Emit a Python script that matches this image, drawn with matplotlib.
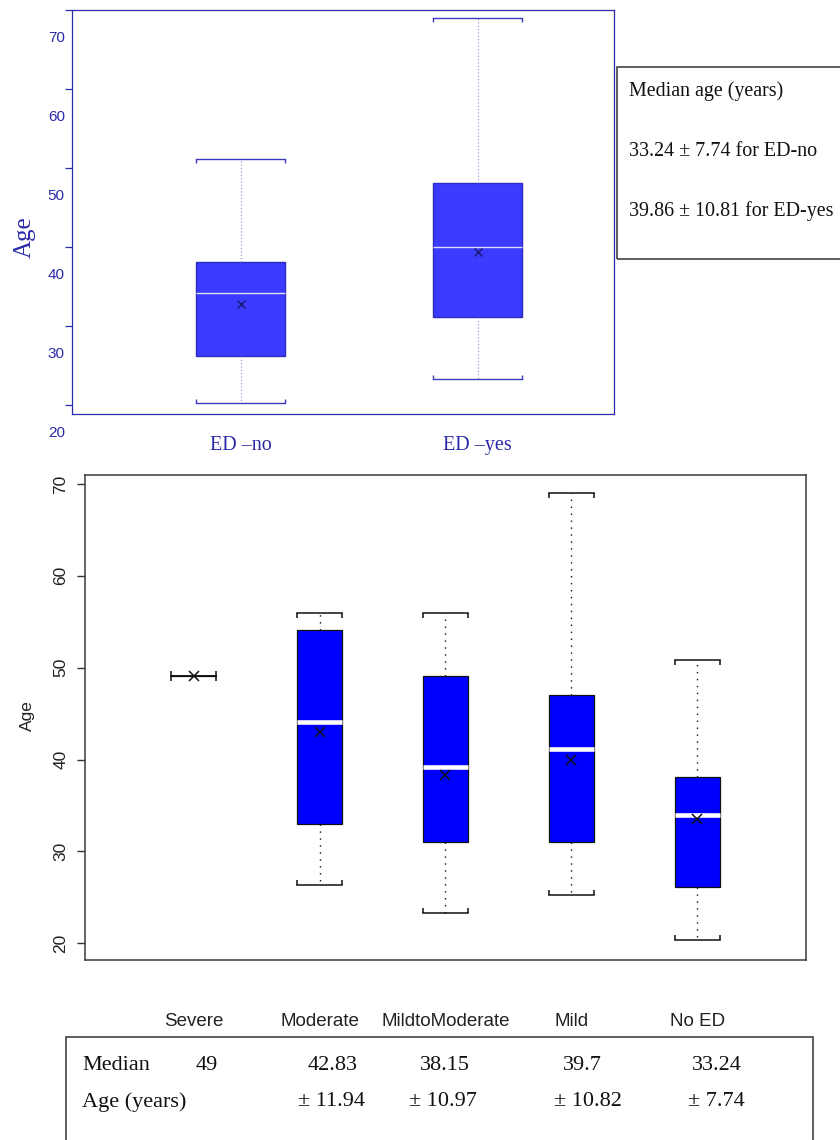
import matplotlib
matplotlib.use("Agg")
import matplotlib.pyplot as plt
from matplotlib.patches import Rectangle

# ---------------- data: top panel (ED no / ED yes) ----------------
top_groups = ["ED \u2013no", "ED \u2013yes"]
top_whislo = [23.8, 26.8]
top_q1 = [29.7, 34.7]
top_med = [37.7, 43.6]
top_q3 = [41.7, 51.6]
top_whishi = [54.7, 72.6]
top_mean = [36.3, 42.9]
top_ytick_labels = [20, 30, 40, 50, 60, 70]

summary_title = "Median age (years)"
summary_lines = ["33.24 \u00b1 7.74 for ED-no", "39.86 \u00b1 10.81 for ED-yes"]

# ---------------- data: bottom panel (ED severity) ----------------
sev_cats = ["Severe", "Moderate", "MildtoModerate", "Mild", "No ED"]
sev_whislo = [49.1, 26.3, 23.3, 25.3, 20.4]
sev_q1 = [49.1, 33.0, 31.0, 31.0, 26.1]
sev_med = [49.1, 44.1, 39.2, 41.1, 34.0]
sev_q3 = [49.1, 54.1, 49.1, 47.0, 38.1]
sev_whishi = [49.1, 56.0, 55.9, 69.0, 50.8]
sev_mean = [49.1, 43.0, 38.3, 39.9, 33.5]
bottom_yticks = [20, 30, 40, 50, 60, 70]

table_row_labels = ["Median", "Age (years)"]
table_medians = ["49", "42.83", "38.15", "39.7", "33.24"]
table_sds = ["", "\u00b1 11.94", "\u00b1 10.97", "\u00b1 10.82", "\u00b1 7.74"]

# ---------------- layout helpers ----------------
W, H = 840, 1140
SERIF = ["Liberation Serif", "DejaVu Serif"]
SANS = ["Liberation Sans", "DejaVu Sans"]
BLUE_AX = "#2a2aa8"


def rect(x0, y0, x1, y1):
    return [x0 / W, 1 - y1 / H, (x1 - x0) / W, (y1 - y0) / H]


def fx(x):
    return x / W


def fy(y):
    return 1 - y / H


def add_cap_ticks(ax, pos, lo, hi, width, px_len, color, lw, ax_px_h):
    y0, y1 = ax.get_ylim()
    d = px_len * (y1 - y0) / ax_px_h
    for x, l, h in zip(pos, lo, hi):
        for xe in (x - width / 2, x + width / 2):
            ax.plot([xe, xe], [h, h - d], color=color, lw=lw, solid_capstyle="butt")
            ax.plot([xe, xe], [l, l + d], color=color, lw=lw, solid_capstyle="butt")


fig = plt.figure(figsize=(8.4, 11.4), dpi=100)

# ================= top panel =================
ax1_px = (72, 9.5, 613.5, 414)
ax1 = fig.add_axes(rect(*ax1_px))
ax1.set_xlim(0.287, 2.574)
ax1.set_ylim(22.41, 73.62)
w1 = 0.376
pos1 = [1, 2]
stats1 = [dict(med=m, q1=a, q3=b, whislo=lo, whishi=hi, mean=mn, fliers=[], label=lb)
          for m, a, b, lo, hi, mn, lb in zip(top_med, top_q1, top_q3, top_whislo,
                                             top_whishi, top_mean, top_groups)]
ax1.bxp(stats1, positions=pos1, widths=w1, capwidths=w1, patch_artist=True,
        showmeans=True, manage_ticks=False,
        boxprops=dict(facecolor="#3b3bff", edgecolor="#2b2bc0", linewidth=1.0),
        whiskerprops=dict(color="#8a8ad8", linestyle=(0, (1, 2)), linewidth=0.8),
        capprops=dict(color="#3a3ac0", linewidth=1.0),
        medianprops=dict(color="#dcdcff", linewidth=1.0),
        meanprops=dict(marker="x", markeredgecolor="#1a1a70", markersize=5.5,
                       markeredgewidth=1.0, linestyle="none"))
add_cap_ticks(ax1, pos1, top_whislo, top_whishi, w1, 4, "#3a3ac0", 1.0,
              ax1_px[3] - ax1_px[1])

tick_offset = 3.6
ax1.set_yticks([v + tick_offset for v in top_ytick_labels
                if v + tick_offset <= 73.62])
ax1.set_yticklabels([])
ax1.tick_params(axis="y", length=5, width=0.9, color=BLUE_AX)
for v in top_ytick_labels:
    ax1.annotate(str(v), xy=(0, v), xycoords=("axes fraction", "data"),
                 xytext=(-5.2, 0), textcoords="offset points", ha="right",
                 va="center", fontsize=11, family=SANS, color=BLUE_AX,
                 annotation_clip=False)
ax1.set_xticks(pos1)
ax1.set_xticklabels(top_groups, family=SERIF, fontsize=14.5, color=BLUE_AX)
ax1.tick_params(axis="x", length=0, pad=15.5)
for s in ax1.spines.values():
    s.set_color(BLUE_AX)
    s.set_linewidth(0.9)
fig.text(fx(25), fy(237), "Age", rotation=90, ha="center", va="center",
         fontsize=18, family=SERIF, color=BLUE_AX)

# summary box
fig.patches.append(Rectangle((fx(616.7), fy(259)), (860 - 616.7) / W, (259 - 67.3) / H,
                             transform=fig.transFigure, fill=False,
                             edgecolor="#333333", linewidth=1.1))
for txt, y in zip([summary_title] + summary_lines, [91, 151, 211]):
    fig.text(fx(629), fy(y), txt, ha="left", va="center", fontsize=14.4,
             family=SERIF, color="#111111")

# ================= bottom panel =================
ax2_px = (85, 474.7, 806, 960)
ax2 = fig.add_axes(rect(*ax2_px))
ax2.set_xlim(0.135, 5.865)
ax2.set_ylim(18.18, 71.0)
w2 = 0.36
pos2 = list(range(1, len(sev_cats) + 1))
stats2 = [dict(med=m, q1=a, q3=b, whislo=lo, whishi=hi, mean=mn, fliers=[], label=lb)
          for m, a, b, lo, hi, mn, lb in zip(sev_med, sev_q1, sev_q3, sev_whislo,
                                             sev_whishi, sev_mean, sev_cats)]
art = ax2.bxp(stats2, positions=pos2, widths=w2, capwidths=w2, patch_artist=True,
              showmeans=True, manage_ticks=False,
              boxprops=dict(facecolor="#0000ff", edgecolor="#111111", linewidth=0.9),
              whiskerprops=dict(color="#111111", linestyle=(0, (1, 4)), linewidth=1.0),
              capprops=dict(color="#111111", linewidth=1.1),
              medianprops=dict(color="white", linewidth=3.3),
              meanprops=dict(marker="x", markeredgecolor="#111111", markersize=7,
                             markeredgewidth=1.1, linestyle="none"))
for med_line, a, b in zip(art["medians"], sev_q1, sev_q3):
    if b <= a:
        med_line.set_visible(False)
add_cap_ticks(ax2, pos2, sev_whislo, sev_whishi, w2, 5, "#111111", 1.1,
              ax2_px[3] - ax2_px[1])

ax2.set_yticks(bottom_yticks)
ax2.set_yticklabels([str(v) for v in bottom_yticks], family=SANS, fontsize=12.5,
                    color="#222222")
ax2.tick_params(axis="y", length=5.8, width=1.0, color="#333333",
                labelrotation=90, pad=6)
for lbl in ax2.get_yticklabels():
    lbl.set_va("center")
ax2.set_xticks(pos2)
ax2.set_xticklabels(sev_cats, family=SANS, fontsize=13.5, color="#222222")
ax2.tick_params(axis="x", length=0, pad=38.5)
for s in ax2.spines.values():
    s.set_color("#3a3a3a")
    s.set_linewidth(1.1)
fig.text(fx(27), fy(716), "Age", rotation=90, ha="center", va="center",
         fontsize=12.5, family=SANS, color="#222222")

# table
fig.patches.append(Rectangle((fx(66), fy(1160)), (812.7 - 66) / W, (1160 - 1037.3) / H,
                             transform=fig.transFigure, fill=False,
                             edgecolor="#333333", linewidth=1.1))
row_y = [1066, 1102]
for lab, y in zip(table_row_labels, row_y):
    fig.text(fx(82), fy(y), lab, ha="left", va="center", fontsize=16,
             family=SERIF, color="#111111")
med_x = [207, 333, 445, 582, 717]
sd_x = [207, 331, 443, 588, 716]
for t, x in zip(table_medians, med_x):
    fig.text(fx(x), fy(row_y[0]), t, ha="center", va="center", fontsize=16,
             family=SERIF, color="#111111")
for t, x in zip(table_sds, sd_x):
    if t:
        fig.text(fx(x), fy(row_y[1]), t, ha="center", va="center", fontsize=16,
                 family=SERIF, color="#111111")

fig.savefig("out.png", dpi=100)
